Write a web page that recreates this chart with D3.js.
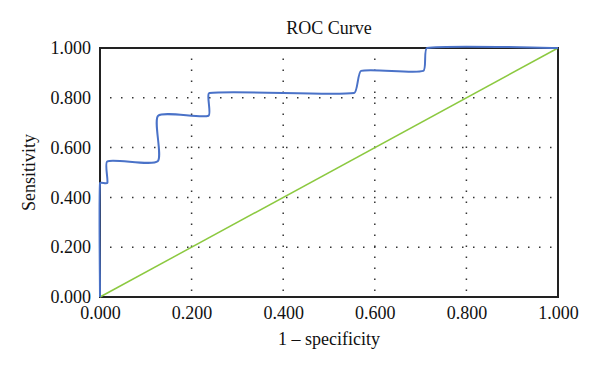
<!DOCTYPE html>
<html>
<head>
<meta charset="utf-8">
<script src="https://cdn.jsdelivr.net/npm/d3@7"></script>
<style>
  body { margin: 0; background: #fff; }
  text { font-family: "Liberation Serif", "DejaVu Serif", serif; fill: #111; }
</style>
</head>
<body>
<span></span>
<script>
// ROC curve, step points smoothed like a spreadsheet "smooth line"

var fpr = [0, 0, 0.016, 0.016, 0.126, 0.127, 0.237, 0.239, 0.555, 0.570, 0.706, 0.714, 1];
var tpr = [0, 0.458, 0.458, 0.545, 0.545, 0.728, 0.728, 0.819, 0.819, 0.908, 0.908, 1, 1];
var refLine = [0, 1];
var ticks = [0, 0.2, 0.4, 0.6, 0.8, 1];

var width = 600, height = 375;
var margin = {top: 48, right: 42, bottom: 78, left: 100};

// bezier smoothing with catmull-rom tangents, each handle kept short on short segments
function smoothCurve(context) {
    var pts = [];
    function cap(t, max) {
        var len = Math.hypot(t[0], t[1]);
        if (len <= max || len === 0) return t;
        return [t[0] * max / len, t[1] * max / len];
    }
    return {
        areaStart() {}, areaEnd() {},
        lineStart() { pts = []; },
        point(x, y) { pts.push([+x, +y]); },
        lineEnd() {
            var n = pts.length;
            if (!n) return;
            context.moveTo(pts[0][0], pts[0][1]);
            var tan = pts.map(function(p, i) {
                var a = pts[Math.max(i - 1, 0)], b = pts[Math.min(i + 1, n - 1)];
                return [(b[0] - a[0]) / 6, (b[1] - a[1]) / 6];
            });
            for (var i = 0; i < n - 1; i++) {
                var p = pts[i], q = pts[i + 1];
                var seg = Math.hypot(q[0] - p[0], q[1] - p[1]);
                var t1 = cap(tan[i], seg * 0.15), t2 = cap(tan[i + 1], seg * 0.15);
                context.bezierCurveTo(p[0] + t1[0], p[1] + t1[1], q[0] - t2[0], q[1] - t2[1], q[0], q[1]);
            }
        }
    };
}

var svg = d3.select("span")
    .append("svg")
    .attr("width", width)
    .attr("height", height);

var xScale = d3.scaleLinear()
    .domain([0, 1])
    .range([margin.left, width - margin.right]);
var yScale = d3.scaleLinear()
    .domain([0, 1])
    .range([height - margin.bottom, margin.top]);

var fmt = d3.format(".3f");

// dotted grid
svg.append("g")
    .selectAll("line")
    .data(ticks.slice(1, -1))
    .join("line")
    .attr("x1", d => xScale(d))
    .attr("x2", d => xScale(d))
    .attr("y1", yScale(1))
    .attr("y2", yScale(0))
    .attr("stroke", "#333")
    .attr("stroke-width", 1.5)
    .attr("stroke-dasharray", "1.5 9.5")
    .attr("stroke-dashoffset", -10.5);

svg.append("g")
    .selectAll("line")
    .data(ticks.slice(1, -1))
    .join("line")
    .attr("x1", xScale(0))
    .attr("x2", xScale(1))
    .attr("y1", d => yScale(d))
    .attr("y2", d => yScale(d))
    .attr("stroke", "#333")
    .attr("stroke-width", 1.5)
    .attr("stroke-dasharray", "1.5 9.5")
    .attr("stroke-dashoffset", -10);

// frame
svg.append("rect")
    .attr("x", xScale(0))
    .attr("y", yScale(1))
    .attr("width", xScale(1) - xScale(0))
    .attr("height", yScale(0) - yScale(1))
    .attr("fill", "none")
    .attr("stroke", "#222")
    .attr("stroke-width", 2);

// axes (labels only)
function xAxis(g) {
    g.call(d3.axisBottom(xScale).tickValues(ticks).tickFormat(fmt).tickSize(0).tickPadding(9));
    g.select(".domain").remove();
    g.selectAll("text").attr("font-size", 18).attr("font-family", "Liberation Serif");
}
function yAxis(g) {
    g.call(d3.axisLeft(yScale).tickValues(ticks).tickFormat(fmt).tickSize(0).tickPadding(9));
    g.select(".domain").remove();
    g.selectAll("text").attr("font-size", 18).attr("font-family", "Liberation Serif");
}

svg.append("g")
    .attr("transform", `translate(0, ${yScale(0)})`)
    .call(xAxis);
svg.append("g")
    .attr("transform", `translate(${xScale(0)}, 0)`)
    .call(yAxis);

// reference diagonal
svg.append("line")
    .attr("x1", xScale(refLine[0]))
    .attr("y1", yScale(refLine[0]))
    .attr("x2", xScale(refLine[1]))
    .attr("y2", yScale(refLine[1]))
    .attr("stroke", "#8cc940")
    .attr("stroke-width", 1.5);

// ROC curve
var pts = fpr.map((x, i) => [x, tpr[i]]);
var line = d3.line()
    .x(d => xScale(d[0]))
    .y(d => yScale(d[1]))
    .curve(smoothCurve);

svg.append("path")
    .attr("d", line(pts))
    .attr("fill", "none")
    .attr("stroke", "#4a72c8")
    .attr("stroke-width", 2);

// titles
svg.append("text")
    .attr("x", (xScale(0) + xScale(1)) / 2)
    .attr("y", 34)
    .attr("text-anchor", "middle")
    .attr("font-size", 18)
    .text("ROC Curve");

svg.append("text")
    .attr("x", (xScale(0) + xScale(1)) / 2)
    .attr("y", 345)
    .attr("text-anchor", "middle")
    .attr("font-size", 18)
    .text("1 – specificity");

svg.append("text")
    .attr("transform", `translate(35, ${(yScale(0) + yScale(1)) / 2}) rotate(-90)`)
    .attr("text-anchor", "middle")
    .attr("font-size", 18)
    .text("Sensitivity");
</script>
</body>
</html>
